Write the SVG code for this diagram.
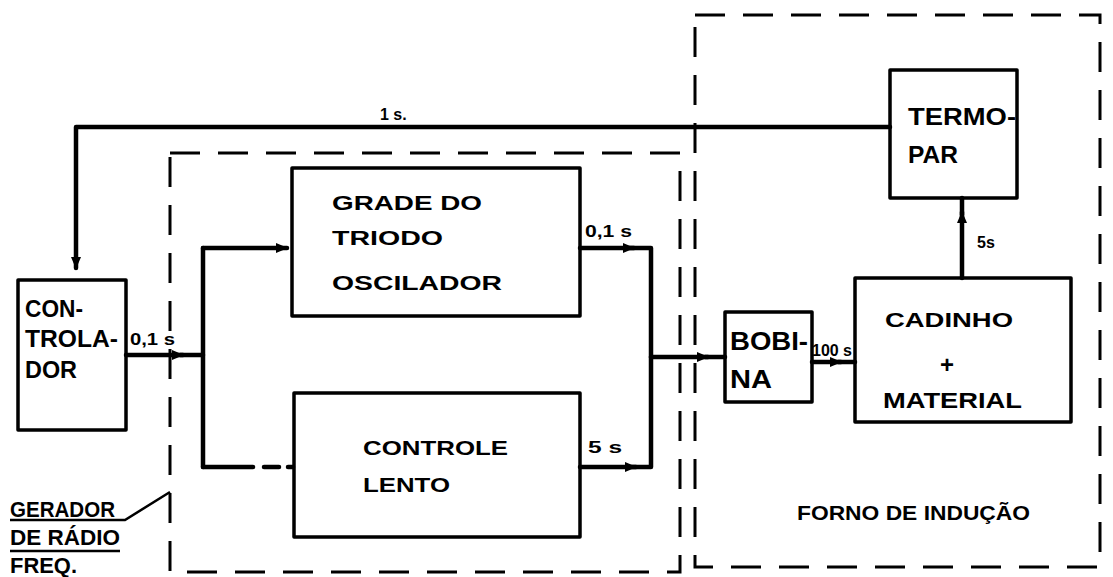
<svg xmlns="http://www.w3.org/2000/svg" width="1113" height="577" viewBox="0 0 1113 577">
<style>
.box{fill:none;stroke:#000;stroke-width:3.5;stroke-linejoin:round}
.dash{fill:none;stroke:#000;stroke-width:3;stroke-dasharray:30 18}
.wire{fill:none;stroke:#000;stroke-width:4.5;stroke-linejoin:round;stroke-linecap:round}
.t{font-family:"Liberation Sans",Arial,sans-serif;font-weight:bold;fill:#000}
.lb{font-size:22px}
.sm{font-size:16px}
</style>
<defs>
<marker id="ah" viewBox="0 0 12 10" refX="11" refY="5" markerWidth="12" markerHeight="10" markerUnits="userSpaceOnUse" orient="auto">
<path d="M0,0 L12,5 L0,10 Z" fill="#000"/>
</marker>
</defs>
<rect width="1113" height="577" fill="#fff"/>

<g id="gerador-frame">
<rect class="dash" x="170" y="153" width="510" height="419"/>
<text class="t lb" x="10" y="517" textLength="105" lengthAdjust="spacingAndGlyphs">GERADOR</text>
<text class="t lb" x="10" y="545" textLength="110" lengthAdjust="spacingAndGlyphs">DE RÁDIO</text>
<text class="t lb" x="10" y="573" textLength="67" lengthAdjust="spacingAndGlyphs">FREQ.</text>
<path d="M10,520 H125 L170,492" fill="none" stroke="#000" stroke-width="2.5"/>
<path d="M10,551 H120" fill="none" stroke="#000" stroke-width="2.5"/>
</g>

<g id="forno-frame">
<rect class="dash" x="695" y="15" width="405" height="552"/>
<text class="t" font-size="20" x="797" y="520" textLength="233" lengthAdjust="spacingAndGlyphs">FORNO DE INDUÇÃO</text>
</g>

<g id="controlador">
<rect class="box" x="18" y="280" width="108" height="150"/>
<text class="t" font-size="23" x="25" y="317" textLength="58" lengthAdjust="spacingAndGlyphs">CON-</text>
<text class="t" font-size="23" x="25" y="347" textLength="93" lengthAdjust="spacingAndGlyphs">TROLA-</text>
<text class="t" font-size="23" x="25" y="378" textLength="52" lengthAdjust="spacingAndGlyphs">DOR</text>
</g>

<g id="grade">
<rect class="box" x="292" y="168" width="288" height="148"/>
<text class="t" font-size="21" x="332" y="210" textLength="150" lengthAdjust="spacingAndGlyphs">GRADE DO</text>
<text class="t" font-size="21" x="332" y="245" textLength="111" lengthAdjust="spacingAndGlyphs">TRIODO</text>
<text class="t" font-size="21" x="332" y="290" textLength="170" lengthAdjust="spacingAndGlyphs">OSCILADOR</text>
</g>

<g id="controle-lento">
<rect class="box" x="294" y="393" width="286" height="144"/>
<text class="t" font-size="21" x="363" y="455" textLength="145" lengthAdjust="spacingAndGlyphs">CONTROLE</text>
<text class="t" font-size="21" x="363" y="492" textLength="87" lengthAdjust="spacingAndGlyphs">LENTO</text>
</g>

<g id="bobina">
<rect class="box" x="725" y="312" width="87" height="90"/>
<text class="t" font-size="25" x="730" y="350" textLength="78" lengthAdjust="spacingAndGlyphs">BOBI-</text>
<text class="t" font-size="25" x="730" y="388" textLength="42" lengthAdjust="spacingAndGlyphs">NA</text>
</g>

<g id="cadinho">
<rect class="box" x="855" y="278" width="216" height="144"/>
<text class="t" font-size="21" x="885" y="327" textLength="128" lengthAdjust="spacingAndGlyphs">CADINHO</text>
<text class="t" font-size="24" x="947" y="373" text-anchor="middle">+</text>
<text class="t" font-size="22" x="883" y="408" textLength="139" lengthAdjust="spacingAndGlyphs">MATERIAL</text>
</g>

<g id="termopar">
<rect class="box" x="890" y="70" width="127" height="128"/>
<text class="t" font-size="24" x="908" y="125" textLength="108" lengthAdjust="spacingAndGlyphs">TERMO-</text>
<text class="t" font-size="24" x="908" y="163" textLength="50" lengthAdjust="spacingAndGlyphs">PAR</text>
</g>

<g id="connectors">
<path class="wire" d="M890,127 H76 V268" marker-end="url(#ah)"/>
<path class="wire" d="M126,355 H183" marker-end="url(#ah)"/>
<path class="wire" d="M180,355 H203"/>
<path class="wire" d="M203,248 V467"/>
<path class="wire" d="M203,248 H287" marker-end="url(#ah)"/>
<path class="wire" d="M203,467 H253"/>
<path class="wire" d="M264,467 H279"/>
<path class="wire" d="M288,467 H293"/>
<path class="wire" d="M580,248 H634" marker-end="url(#ah)"/>
<path class="wire" d="M630,248 H651 V357"/>
<path class="wire" d="M580,467 H636" marker-end="url(#ah)"/>
<path class="wire" d="M632,467 H651 V357"/>
<path class="wire" d="M651,357 H708" marker-end="url(#ah)"/>
<path class="wire" d="M705,357 H725"/>
<path class="wire" d="M812,362 H841" marker-end="url(#ah)"/>
<path class="wire" d="M838,362 H855"/>
<path class="wire" d="M962,278 V212" marker-end="url(#ah)"/>
<path class="wire" d="M962,215 V198"/>
<text class="t sm" x="130" y="345" textLength="45" lengthAdjust="spacingAndGlyphs">0,1 s</text>
<text class="t sm" x="585" y="237" textLength="47" lengthAdjust="spacingAndGlyphs">0,1 s</text>
<text class="t sm" x="588" y="453" textLength="34" lengthAdjust="spacingAndGlyphs">5 s</text>
<text class="t sm" x="812" y="356" textLength="40" lengthAdjust="spacingAndGlyphs">100 s</text>
<text class="t sm" x="977" y="248">5s</text>
<text class="t sm" x="380" y="120">1 s.</text>
</g>
</svg>
